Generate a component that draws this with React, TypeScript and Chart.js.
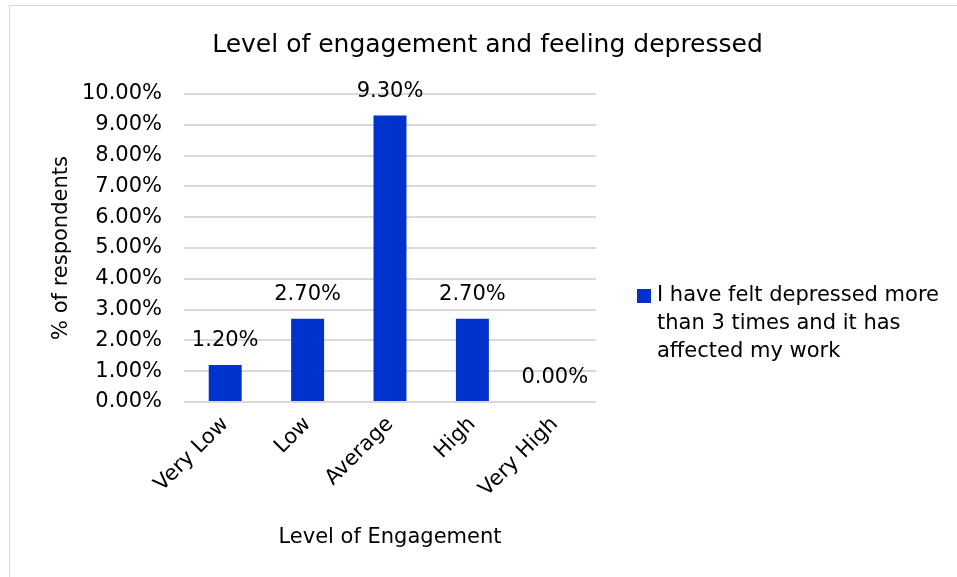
import React, { useEffect, useRef } from "react";
import { Chart, registerables } from "chart.js";

Chart.register(...registerables);

const categories = ["Very Low", "Low", "Average", "High", "Very High"];
const seriesLabel = "I have felt depressed more than 3 times and it has affected my work";
const seriesValues = [1.2, 2.7, 9.3, 2.7, 0.0];
const yTicks = [0, 1, 2, 3, 4, 5, 6, 7, 8, 9, 10];
const chartTitle = "Level of engagement and feeling depressed";
const xTitle = "Level of Engagement";
const yTitle = "% of respondents";

const FONT = "'DejaVu Sans', Verdana, sans-serif";
const BAR = "#0033CC";
const GRID = "#d9d9d9";

const fmt = (v: number) => v.toFixed(2) + "%";

// value labels above each bar
const valueLabels = {
  id: "valueLabels",
  afterDatasetsDraw(chart: any) {
    const { ctx } = chart;
    const meta = chart.getDatasetMeta(0);
    ctx.save();
    ctx.font = `21px ${FONT}`;
    ctx.fillStyle = "#000";
    ctx.textAlign = "center";
    ctx.textBaseline = "middle";
    meta.data.forEach((bar: any, i: number) => {
      ctx.fillText(fmt(chart.data.datasets[0].data[i]), bar.x, bar.y - 24);
    });
    ctx.restore();
  },
};

// centred chart heading
const heading = {
  id: "heading",
  afterDraw(chart: any) {
    const { ctx } = chart;
    ctx.save();
    ctx.font = `25px ${FONT}`;
    ctx.fillStyle = "#000";
    ctx.textAlign = "center";
    ctx.textBaseline = "middle";
    ctx.fillText(chartTitle, chart.width / 2 + 4, 39);
    ctx.restore();
  },
};

// legend on the right with wrapped label text
const wrappedLegend = {
  id: "wrappedLegend",
  afterDraw(chart: any) {
    const { ctx, chartArea } = chart;
    const ds = chart.data.datasets[0];
    ctx.save();
    ctx.font = `21px ${FONT}`;
    const maxW = 295;
    const words = String(ds.label).split(" ");
    const lines: string[] = [];
    let cur = "";
    for (const w of words) {
      const t = cur ? cur + " " + w : w;
      if (ctx.measureText(t).width > maxW && cur) {
        lines.push(cur);
        cur = w;
      } else cur = t;
    }
    if (cur) lines.push(cur);
    const sx = chartArea.right + 41;
    const y0 = chartArea.top + 202;
    ctx.fillStyle = ds.backgroundColor;
    ctx.fillRect(sx, y0 - 7, 14, 14);
    ctx.fillStyle = "#000";
    ctx.textAlign = "left";
    ctx.textBaseline = "middle";
    lines.forEach((l, i) => ctx.fillText(l, sx + 20, y0 + i * 28));
    ctx.restore();
  },
};

export default function App() {
  const ref = useRef<HTMLCanvasElement>(null);
  useEffect(() => {
    if (!ref.current) return;
    const chart = new Chart(ref.current, {
      type: "bar",
      data: {
        labels: categories,
        datasets: [
          {
            label: seriesLabel,
            data: seriesValues,
            backgroundColor: BAR,
            barPercentage: 0.4,
            categoryPercentage: 1,
          },
        ],
      },
      options: {
        responsive: false,
        animation: false,
        devicePixelRatio: 1,
        layout: { padding: { left: 0, right: 361, top: 88, bottom: 0 } },
        plugins: {
          legend: { display: false },
          title: { display: false },
          tooltip: { enabled: false },
        },
        scales: {
          x: {
            grid: { display: false, drawTicks: false },
            border: { display: false },
            ticks: {
              font: { family: FONT, size: 21 },
              color: "#000",
              minRotation: 45,
              maxRotation: 45,
              autoSkip: false,
              padding: 10,
            },
            title: {
              display: true,
              text: xTitle,
              font: { family: FONT, size: 21 },
              color: "#000",
              padding: { top: 0, bottom: 27 },
            },
            afterFit(scale: any) {
              scale.height = 175;
            },
          },
          y: {
            min: 0,
            max: 10,
            afterBuildTicks(scale: any) {
              scale.ticks = yTicks.map((v) => ({ value: v }));
            },
            grid: { color: GRID, lineWidth: 2, drawTicks: false },
            border: { display: false },
            ticks: {
              font: { family: FONT, size: 21 },
              color: "#000",
              padding: 22,
              callback: (v: any) => fmt(Number(v)),
            },
            title: {
              display: true,
              text: yTitle,
              font: { family: FONT, size: 21 },
              color: "#000",
              padding: { top: 39, bottom: 0 },
            },
            afterFit(scale: any) {
              scale.width = 174;
            },
          },
        },
      },
      plugins: [valueLabels, heading, wrappedLegend],
    });
    return () => chart.destroy();
  }, []);

  return (
    <div
      style={{
        position: "absolute",
        left: 9,
        top: 5,
        width: 947,
        height: 571,
        borderLeft: `1px solid ${GRID}`,
        borderTop: `1px solid ${GRID}`,
        background: "#fff",
      }}
    >
      <canvas ref={ref} width={947} height={571} style={{ display: "block" }} />
    </div>
  );
}
